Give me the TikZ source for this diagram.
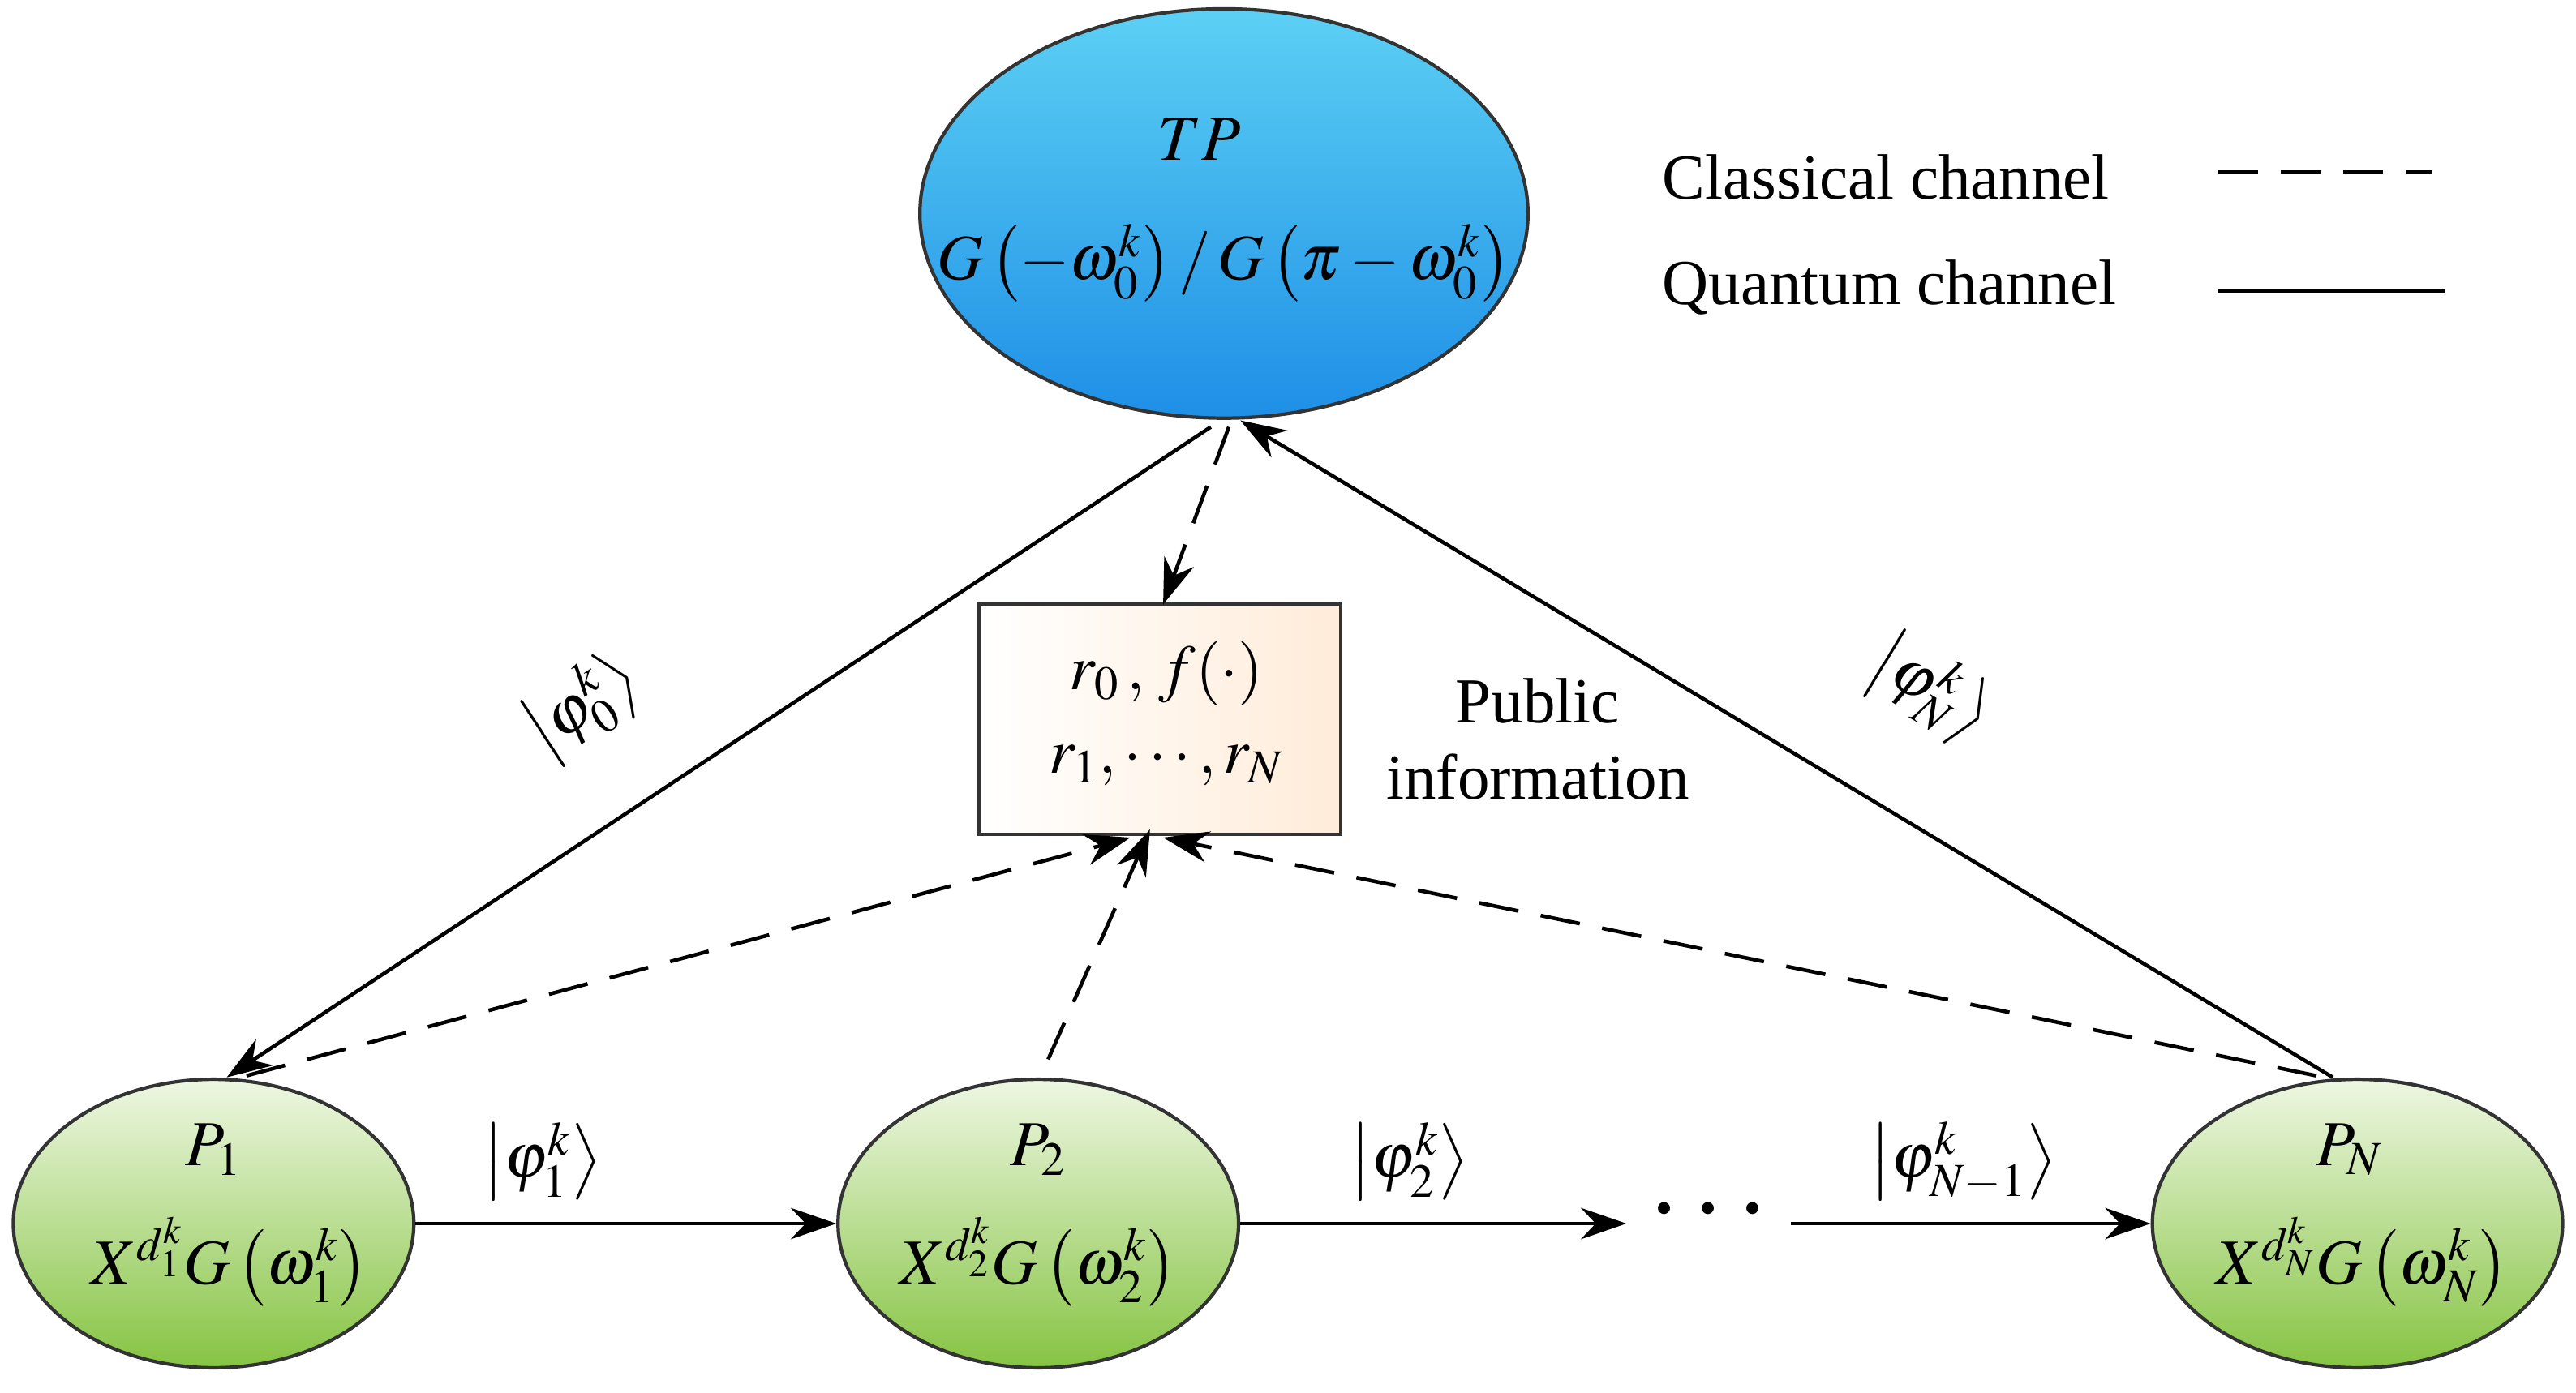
\documentclass[tikz,border=0pt]{standalone}
\usepackage{mathptmx}
\usepackage{fontspec}
\setmainfont{Liberation Serif}
\usetikzlibrary{arrows.meta,shapes.geometric}
\definecolor{tptop}{HTML}{5CD0F4}
\definecolor{tpbot}{HTML}{1E8FE6}
\definecolor{gtop}{HTML}{EEF7E2}
\definecolor{gbot}{HTML}{86C443}
\begin{document}
\begin{tikzpicture}[x=0.02026cm,y=-0.02026cm,
  font=\fontsize{22.5}{27}\selectfont,
  pn/.style={draw=black!80,line width=1.2pt,ellipse,top color=gtop,bottom color=gbot},
  arr/.style={line width=1.3pt,-{Stealth[length=16pt,width=11pt]}},
  dsh/.style={arr,dash pattern=on 14pt off 8pt}]
\useasboundingbox (0,0) rectangle (1568,848);
\node[draw=black!80,line width=1.2pt,ellipse,minimum width=7.5cm,minimum height=5.05cm,top color=tptop,bottom color=tpbot] (tp) at (745,130) {};
\node (tpl) at (730,85) {$TP$};
\node (tpf) at (745,160) {$G\left(-\omega_0^k\right)/\,G\left(\pi-\omega_0^k\right)$};
\node[draw=black!80,line width=1.2pt,minimum width=4.46cm,minimum height=2.84cm,left color=white,right color=orange!15] (box) at (706,438) {};
\node (bx1) at (710,410) {$r_0\,,\,f(\cdot)$};
\node (bx2) at (710,466) {$r_1,\cdots,r_N$};
\node[align=center] (pub) at (936,450) {Public\\information};
\node[pn,minimum width=4.94cm,minimum height=3.56cm] (p1) at (130,745) {};
\node[pn,minimum width=4.94cm,minimum height=3.56cm] (p2) at (632,745) {};
\node[pn,minimum width=5.06cm,minimum height=3.56cm] (pN) at (1435,745) {};
\node (l1) at (130,700) {$P_1$}; \node (f1) at (140,768) {$X^{d_1^k}G\left(\omega_1^k\right)$};
\node (l2) at (632,700) {$P_2$}; \node (f2) at (632,768) {$X^{d_2^k}G\left(\omega_2^k\right)$};
\node (lN) at (1430,700) {$P_N$}; \node (fN) at (1438,768) {$X^{d_N^k}G\left(\omega_N^k\right)$};
\node[font=\fontsize{40}{40}\selectfont] (dots) at (1040,738) {$\cdots$};
\node (lc) at (1148,108) {Classical channel};
\node (lq) at (1150,175) {Quantum channel};
\coordinate (c1) at (1350,105); \coordinate (c2) at (1480,105);
\coordinate (q1) at (1350,177); \coordinate (q2) at (1488,177);
\draw[line width=1.3pt,dash pattern=on 14pt off 8pt] (c1) -- (c2);
\draw[line width=1.3pt] (q1) -- (q2);
\coordinate (tpa) at (737,260); \coordinate (p1t) at (138,656);
\coordinate (pnt) at (1420,656); \coordinate (tpb) at (755,256);
\draw[arr] (tpa) -- (p1t);
\node[rotate=33.4] (a0) at (355,430) {$\left|\varphi_0^k\right\rangle$};
\draw[arr] (pnt) -- (tpb);
\node[rotate=-31] (aN) at (1175,420) {$\left|\varphi_N^k\right\rangle$};
\coordinate (tpc) at (748,260); \coordinate (bt) at (708,368);
\draw[dsh] (tpc) -- (bt);
\coordinate (p1d) at (150,655); \coordinate (p2d) at (638,645); \coordinate (pnd) at (1410,655);
\coordinate (b1) at (688,510); \coordinate (b2) at (700,505); \coordinate (b3) at (708,510);
\draw[dsh] (p1d) -- (b1);
\draw[dsh] (p2d) -- (b2);
\draw[dsh] (pnd) -- (b3);
\draw[arr] (p1.east) -- (p2.west);
\draw[arr] (p2.east) -- (990,745);
\draw[arr] (1090,745) -- (pN.west);
\node (a1) at (330,707) {$\left|\varphi_1^k\right\rangle$};
\node (a2) at (858,707) {$\left|\varphi_2^k\right\rangle$};
\node (a3) at (1195,707) {$\left|\varphi_{N-1}^k\right\rangle$};
\end{tikzpicture}
\end{document}
